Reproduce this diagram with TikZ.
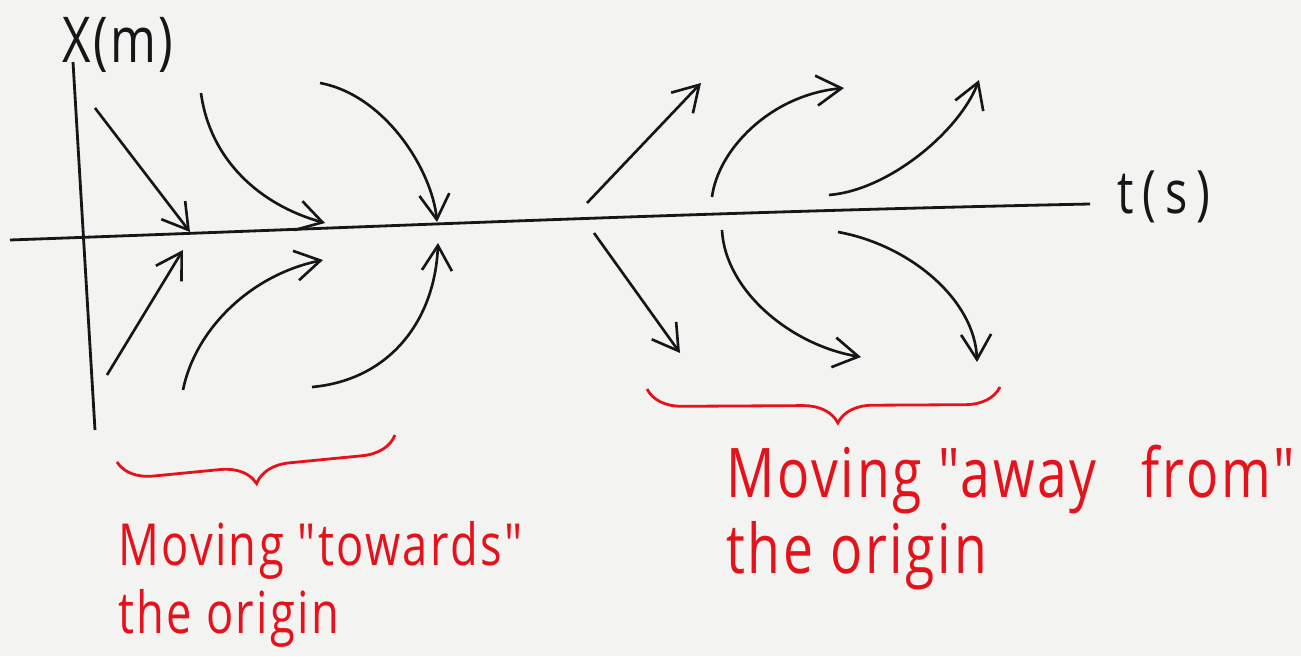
\documentclass[tikz,border=0pt]{standalone}
\usepackage{fontspec}
\newfontfamily\hand[FakeStretch=0.78]{Open Sans}
\usetikzlibrary{arrows.meta, decorations.pathreplacing}
\definecolor{ink}{HTML}{161616}
\definecolor{marker}{HTML}{E5121B}
\definecolor{paper}{HTML}{F3F3F1}

\begin{document}
\begin{tikzpicture}[
  x=0.02cm, y=-0.02cm,
  axis/.style={draw=ink, line width=1.6pt},
  arr/.style={draw=ink, line width=1.5pt, -{Straight Barb[length=5mm, width=6mm]}},
  brc/.style={draw=marker, line width=1.6pt, decorate, decoration={brace, amplitude=0.7cm}},
  note/.style={text=marker, font=\hand\fontsize{33}{40}\selectfont\addfontfeature{LetterSpace=4},
               inner sep=0pt, anchor=base west},
  bignote/.style={note, font=\hand\fontsize{39}{46}\selectfont\addfontfeature{LetterSpace=4}},
  axlbl/.style={text=ink, font=\hand\fontsize{36}{42}\selectfont\addfontfeature{LetterSpace=4},
                inner sep=0pt, anchor=base west}
]
\fill[paper] (0,0) rectangle (1301,656);
\useasboundingbox (0,0) rectangle (1301,656);

% axes
\coordinate (x0) at (95,430);
\coordinate (x1) at (73,62);
\coordinate (t0) at (10,240);
\coordinate (t1) at (1090,204);
\draw[axis] (x0) -- (x1);
\draw[axis] (t0) .. controls (400,226) and (700,212) .. (t1);
\node[axlbl] (xlab) at (62,62) {X(m)};
\node[axlbl, font=\hand\fontsize{34}{40}\selectfont\addfontfeature{LetterSpace=15}] (tlab) at (1117,213) {t(s)};

% towards the origin
\draw[arr] (95,108) -- (190,232);
\draw[arr] (201,93) .. controls (210,160) and (260,205) .. (325,223);
\draw[arr] (320,83) .. controls (385,95) and (432,170) .. (437,222);
\draw[arr] (107,375) -- (183,250);
\draw[arr] (183,390) .. controls (195,330) and (250,275) .. (323,260);
\draw[arr] (312,387) .. controls (390,380) and (435,320) .. (438,243);

% away from the origin
\draw[arr] (587,203) -- (701,83);
\draw[arr] (712,197) .. controls (718,150) and (770,95) .. (844,88);
\draw[arr] (829,195) .. controls (890,190) and (960,130) .. (979,80);
\draw[arr] (594,233) -- (680,353);
\draw[arr] (722,230) .. controls (725,290) and (790,345) .. (861,357);
\draw[arr] (838,232) .. controls (910,245) and (975,300) .. (977,362);

% braces and notes
\draw[brc, decoration={aspect=0.51}] (395,435) -- (117,462);
\draw[brc, decoration={aspect=0.46}] (1000,387) -- (647,389);
\node[note] (tw1) at (118,565) {Moving "towards"};
\node[note] (tw2) at (118,633) {the origin};
\node[bignote] (aw1) at (726,497) {Moving "away\hspace{0.9cm}from"};
\node[bignote] (aw2) at (726,573) {the origin};
\end{tikzpicture}
\end{document}
